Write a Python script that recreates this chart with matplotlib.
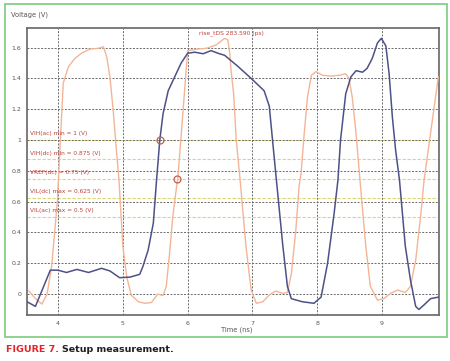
import matplotlib
matplotlib.use("Agg")
import matplotlib.pyplot as plt
from matplotlib.patches import Rectangle

# ---- data ----
blue_t = [3.52, 3.65, 3.88, 4.0, 4.13, 4.29, 4.47, 4.67, 4.8, 4.95, 5.11, 5.26, 5.31, 5.39, 5.47, 5.52,
          5.57, 5.62, 5.70, 5.8, 5.90, 6.0, 6.11, 6.24, 6.36, 6.49, 6.57, 6.77, 6.98, 7.18, 7.26, 7.31,
          7.37, 7.47, 7.54, 7.6, 7.77, 7.95, 8.06, 8.16, 8.26, 8.32, 8.36, 8.44, 8.52, 8.6, 8.70, 8.77,
          8.85, 8.93, 8.99, 9.06, 9.11, 9.16, 9.21, 9.27, 9.36, 9.44, 9.52, 9.57, 9.65, 9.75, 9.87]
blue_v = [-0.05, -0.08, 0.155, 0.155, 0.14, 0.16, 0.14, 0.167, 0.15, 0.106, 0.11, 0.128, 0.18, 0.285, 0.46, 0.74,
          1.0, 1.17, 1.32, 1.41, 1.50, 1.563, 1.57, 1.56, 1.58, 1.56, 1.55, 1.48, 1.40, 1.32, 1.22, 1.0,
          0.74, 0.31, 0.05, -0.03, -0.05, -0.06, -0.02, 0.2, 0.52, 0.74, 1.0, 1.30, 1.41, 1.45, 1.44, 1.465,
          1.53, 1.63, 1.66, 1.61, 1.43, 1.15, 0.935, 0.74, 0.31, 0.09, -0.08, -0.1, -0.07, -0.03, -0.02]

orange_t = [3.55, 3.65, 3.75, 3.83, 3.9, 3.95, 3.99, 4.03, 4.08, 4.16, 4.26, 4.36, 4.49, 4.62, 4.70, 4.75,
            4.8, 4.85, 4.9, 4.94, 5.0, 5.06, 5.13, 5.24, 5.34, 5.44, 5.54, 5.62, 5.67, 5.72, 5.77, 5.83,
            5.85, 5.93, 6.0, 6.14, 6.29, 6.44, 6.57, 6.62, 6.65, 6.67, 6.71, 6.75, 6.81, 6.9, 6.98, 7.06,
            7.16, 7.26, 7.36, 7.47, 7.54, 7.6, 7.67, 7.72, 7.75, 7.8, 7.85, 7.91, 7.98, 8.08, 8.21, 8.34,
            8.44, 8.49, 8.54, 8.6, 8.66, 8.75, 8.82, 8.93, 9.03, 9.13, 9.24, 9.36, 9.44, 9.52, 9.6, 9.65,
            9.75, 9.87]
orange_v = [0.02, -0.03, -0.065, 0.0, 0.18, 0.415, 0.61, 0.957, 1.37, 1.476, 1.53, 1.563, 1.59, 1.595, 1.605, 1.54,
            1.41, 1.195, 0.935, 0.74, 0.31, 0.11, -0.007, -0.05, -0.06, -0.055, 0.0, -0.01, 0.05, 0.26, 0.5, 0.70,
            0.76, 1.195, 1.58, 1.59, 1.595, 1.617, 1.66, 1.65, 1.56, 1.45, 1.3, 1.0, 0.74, 0.31, 0.026, -0.06,
            -0.05, -0.006, 0.02, 0.004, 0.01, 0.13, 0.415, 0.70, 0.78, 1.045, 1.28, 1.42, 1.444, 1.42, 1.415, 1.42,
            1.43, 1.40, 1.28, 1.04, 0.74, 0.31, 0.05, -0.04, -0.03, 0.004, 0.026, 0.01, 0.05, 0.22, 0.52, 0.74,
            1.045, 1.41]

level_values = [1.0, 0.875, 0.75, 0.625, 0.5]
level_labels = ["VIH(ac) min = 1 (V)", "VIH(dc) min = 0.875 (V)", "VREF(dc) = 0.75 (V)",
                "VIL(dc) max = 0.625 (V)", "VIL(ac) max = 0.5 (V)"]

marker_t = [5.57, 5.83]
marker_v = [1.0, 0.75]

x_ticks = [4, 5, 6, 7, 8, 9]
y_ticks = [0, 0.2, 0.4, 0.6, 0.8, 1.0, 1.2, 1.4, 1.6]
y_tick_labels = ["0", "0.2", "0.4", "0.6", "0.8", "1", "1.2", "1.4", "1.6"]

# ---- figure ----
fig = plt.figure(figsize=(4.5, 3.61), dpi=100)
W, H = 450, 361
fig.patches.append(Rectangle((5 / W, 1 - 337 / H), (447 - 5) / W, (337 - 4) / H,
                             transform=fig.transFigure, fill=False,
                             edgecolor="#86cf86", linewidth=1.3))

ax = fig.add_axes([27 / W, 1 - 315 / H, (439 - 27) / W, (315 - 28) / H])
ax.set_xlim(3.52, 9.88)
ax.set_ylim(-0.136, 1.727)

ax.set_xticks(x_ticks)
ax.set_xticklabels([str(v) for v in x_ticks])
ax.set_yticks(y_ticks)
ax.set_yticklabels(y_tick_labels)
ax.tick_params(labelsize=4.5, colors="#555555", length=0, pad=4)
ax.grid(True, color="#6a6a6a", linestyle=(0, (2.0, 1.5)), linewidth=0.7)
for s in ax.spines.values():
    s.set_color("#666666")
    s.set_linewidth(1.2)

for v in level_values:
    ax.axhline(v, color="#dcd870", linestyle=(0, (3, 1.5)), linewidth=0.8, zorder=1.5)
for v, lab in zip(level_values, level_labels):
    ax.text(3.56, v + 0.04, lab, fontsize=4.2, color="#b8443c", va="center", ha="left", zorder=4)

ax.plot(orange_t, orange_v, color="#f3b596", linewidth=1.0, zorder=3)
ax.plot(blue_t, blue_v, color="#4d5187", linewidth=1.1, zorder=3)
ax.plot(marker_t, marker_v, linestyle="none", marker="o", markersize=5,
        markerfacecolor="none", markeredgecolor="#c0604c", markeredgewidth=0.9, zorder=5)

ax.text(6.68, 1.695, "rise_tDS 283.590 (ps)", fontsize=4.3, color="#c0443c",
        ha="center", va="center", zorder=4)

fig.text(11 / W, 1 - 15 / H, "Voltage (V)", fontsize=4.8, color="#555555", va="center", ha="left")
fig.text(237 / W, 1 - 330 / H, "Time (ns)", fontsize=4.8, color="#555555", va="center", ha="center")

t1 = fig.text(6 / W, 1 - 349 / H, "FIGURE 7.", fontsize=6.8, color="#e5232a",
              fontweight="bold", va="center", ha="left")
fig.canvas.draw()
bb = t1.get_window_extent()
fig.text(bb.x1 / W + 3 / W, 1 - 349 / H, "Setup measurement.", fontsize=6.8, color="#231f20",
         fontweight="bold", va="center", ha="left")

fig.savefig("out.png", dpi=100)
